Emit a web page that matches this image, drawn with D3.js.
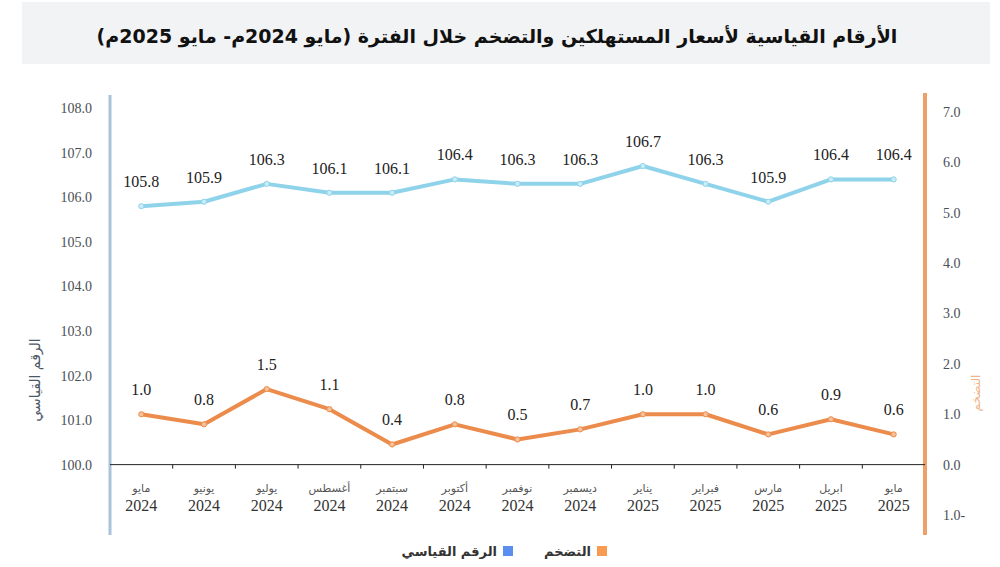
<!DOCTYPE html>
<html lang="ar">
<head>
<meta charset="utf-8">
<script src="https://cdn.jsdelivr.net/npm/d3@7"></script>
<style>
  body { margin: 0; background: #fff; }
  svg { display: block; }
</style>
</head>
<body>
<div id="chart"></div>
<script>
const months = ['مايو', 'يونيو', 'يوليو', 'أغسطس', 'سبتمبر', 'أكتوبر', 'نوفمبر', 'ديسمبر', 'يناير', 'فبراير', 'مارس', 'ابريل', 'مايو'];
const years = ['2024', '2024', '2024', '2024', '2024', '2024', '2024', '2024', '2025', '2025', '2025', '2025', '2025'];
const cpiValues = [105.8, 105.9, 106.3, 106.1, 106.1, 106.4, 106.3, 106.3, 106.7, 106.3, 105.9, 106.4, 106.4];
const inflationValues = [1.0, 0.8, 1.5, 1.1, 0.4, 0.8, 0.5, 0.7, 1.0, 1.0, 0.6, 0.9, 0.6];
const leftTicks = [100, 101, 102, 103, 104, 105, 106, 107, 108];
const rightTicks = [-1, 0, 1, 2, 3, 4, 5, 6, 7];
const seriesNames = ['التضخم', 'الرقم القياسي'];

const title = 'الأرقام القياسية لأسعار المستهلكين والتضخم خلال الفترة (مايو 2024م- مايو 2025م)';

const width = 1000, height = 567;
const blue = '#8fd3ea', orange = '#ec8c4c';
const serif = '"Liberation Serif", "DejaVu Serif", serif';
const sans = '"DejaVu Sans", "Noto Sans", sans-serif';

const svg = d3.select('#chart').append('svg')
    .attr('width', width)
    .attr('height', height);

// title band
svg.append('rect')
    .attr('x', 22).attr('y', 2)
    .attr('width', 968).attr('height', 62)
    .attr('fill', '#f2f3f5');

svg.append('text')
    .attr('x', 497).attr('y', 43)
    .attr('text-anchor', 'middle')
    .attr('direction', 'rtl')
    .style('font-family', sans)
    .style('font-weight', 'bold')
    .style('font-size', '19px')
    .attr('fill', '#111')
    .text(title);

const idx = d3.range(months.length);

const x = d3.scaleBand()
    .domain(idx)
    .range([110, 925]);

const yLeft = d3.scaleLinear().domain([100, 108]).range([465, 108]);
const yRight = d3.scaleLinear().domain([-1, 7]).range([515, 112]);

// left axis
const leftAxis = svg.append('g')
    .attr('transform', 'translate(110,0)')
    .call(d3.axisLeft(yLeft).tickValues(leftTicks).tickSize(0).tickPadding(18)
        .tickFormat(d3.format('.1f')));
leftAxis.select('.domain').remove();
leftAxis.attr('font-family', null);
leftAxis.selectAll('text')
    .style('font-family', serif)
    .style('font-size', '14px')
    .attr('fill', '#4a4f55');

svg.append('line')
    .attr('x1', 110).attr('x2', 110)
    .attr('y1', 95).attr('y2', 535)
    .attr('stroke', '#a9c4da')
    .attr('stroke-width', 3);

// right axis
const rightAxis = svg.append('g')
    .attr('transform', 'translate(925,0)')
    .call(d3.axisRight(yRight).tickValues(rightTicks).tickSize(0).tickPadding(18)
        .tickFormat(d => d < 0 ? Math.abs(d).toFixed(1) + '-' : d.toFixed(1)));
rightAxis.select('.domain').remove();
rightAxis.attr('font-family', null);
rightAxis.selectAll('text')
    .style('font-family', serif)
    .style('font-size', '14px')
    .attr('fill', '#4a4f55');

svg.append('line')
    .attr('x1', 925).attr('x2', 925)
    .attr('y1', 93).attr('y2', 535)
    .attr('stroke', '#eea068')
    .attr('stroke-width', 4);

// axis titles
svg.append('text')
    .attr('transform', 'translate(40,380) rotate(-90)')
    .attr('text-anchor', 'middle')
    .attr('direction', 'rtl')
    .style('font-family', sans)
    .style('font-size', '14px')
    .attr('fill', '#4d5866')
    .text(seriesNames[1]);

svg.append('text')
    .attr('transform', 'translate(980,393) rotate(-90)')
    .attr('text-anchor', 'middle')
    .attr('direction', 'rtl')
    .style('font-family', sans)
    .style('font-size', '12px')
    .attr('fill', '#f0b48a')
    .text(seriesNames[0]);

// x axis baseline and ticks
const xAxis = svg.append('g').attr('transform', `translate(0,${yRight(0)})`);
xAxis.append('line')
    .attr('x1', 110).attr('x2', 925)
    .attr('stroke', '#222')
    .attr('stroke-width', 1);
xAxis.selectAll('.tick')
    .data(idx.slice(1))
    .enter()
    .append('line')
    .attr('x1', d => x(d)).attr('x2', d => x(d))
    .attr('y1', 0).attr('y2', 4)
    .attr('stroke', '#222');

const cx = d => x(d) + x.bandwidth() / 2;

svg.selectAll('.month')
    .data(idx)
    .enter()
    .append('text')
    .attr('class', 'month')
    .attr('x', cx)
    .attr('y', 492)
    .attr('text-anchor', 'middle')
    .attr('direction', 'rtl')
    .style('font-family', sans)
    .style('font-size', '11px')
    .attr('fill', '#555')
    .text(d => months[d]);

svg.selectAll('.year')
    .data(idx)
    .enter()
    .append('text')
    .attr('class', 'year')
    .attr('x', cx)
    .attr('y', 511)
    .attr('text-anchor', 'middle')
    .style('font-family', serif)
    .style('font-size', '16px')
    .attr('fill', '#333')
    .text(d => years[d]);

// lines
function drawSeries(values, yScale, color, dotColor) {
    const line = d3.line()
        .x(d => cx(d))
        .y(d => yScale(values[d]));

    svg.append('path')
        .datum(idx)
        .attr('d', line)
        .attr('fill', 'none')
        .attr('stroke', color)
        .attr('stroke-width', 4)
        .attr('stroke-linejoin', 'round');

    svg.append('g').selectAll('circle')
        .data(idx)
        .enter()
        .append('circle')
        .attr('cx', cx)
        .attr('cy', d => yScale(values[d]))
        .attr('r', 2.6)
        .attr('fill', dotColor)
        .attr('stroke', color)
        .attr('stroke-width', 1);

    svg.append('g').selectAll('text')
        .data(idx)
        .enter()
        .append('text')
        .attr('x', cx)
        .attr('y', d => yScale(values[d]) - 19)
        .attr('text-anchor', 'middle')
        .style('font-family', serif)
        .style('font-size', '16px')
        .attr('fill', '#222')
        .text(d => values[d].toFixed(1));
}

drawSeries(cpiValues, yLeft, blue, '#c9ecf6');
drawSeries(inflationValues, yRight, orange, '#f6c29c');

// legend
const legend = svg.append('g');
const legendItems = [
    { name: seriesNames[0], color: '#f79a52', x: 597 },
    { name: seriesNames[1], color: '#5a8ff0', x: 503 }
];
legendItems.forEach(item => {
    legend.append('rect')
        .attr('x', item.x).attr('y', 546)
        .attr('width', 10).attr('height', 10)
        .attr('fill', item.color);
    legend.append('text')
        .attr('x', item.x - 6).attr('y', 556)
        .attr('text-anchor', 'start')
        .attr('direction', 'rtl')
        .style('font-family', sans)
        .style('font-weight', 'bold')
        .style('font-size', '13px')
        .attr('fill', '#333')
        .text(item.name);
});
</script>
</body>
</html>
